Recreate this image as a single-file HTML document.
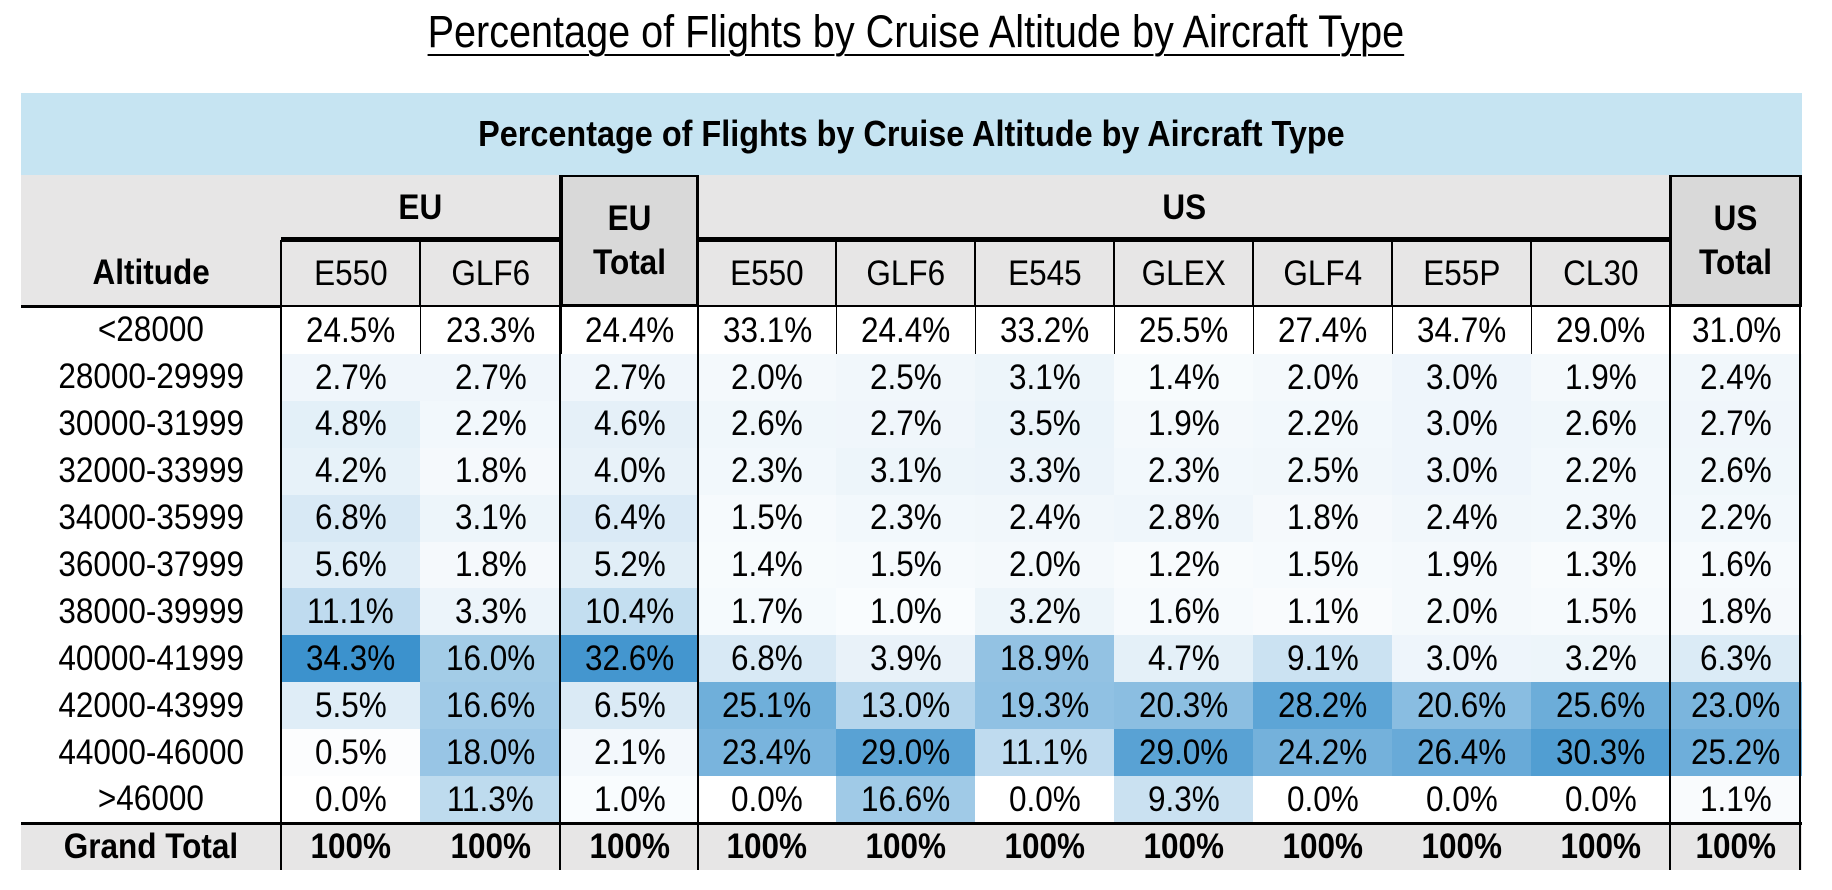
<!DOCTYPE html>
<html><head><meta charset="utf-8">
<style>
html,body{margin:0;padding:0;background:#fff;}
body{width:1832px;height:890px;position:relative;overflow:hidden;font-family:"Liberation Sans",sans-serif;}
.c{position:absolute;box-sizing:border-box;display:flex;align-items:center;justify-content:center;color:#000;}
.c span{display:inline-block;transform:scaleX(0.9);white-space:nowrap;}
#title{position:absolute;left:0;width:1832px;top:6px;text-align:center;font-size:45px;}
#title span{display:inline-block;transform:scaleX(0.88);text-decoration:underline;text-underline-offset:7px;text-decoration-thickness:2px;}
</style></head>
<body>
<div id="title"><span>Percentage of Flights by Cruise Altitude by Aircraft Type</span></div>
<div id="tbl"></div>
<script>
const altitudes=["<28000","28000-29999","30000-31999","32000-33999","34000-35999","36000-37999","38000-39999","40000-41999","42000-43999","44000-46000",">46000"];
const columns=["E550","GLF6","EU Total","E550","GLF6","E545","GLEX","GLF4","E55P","CL30","US Total"];
const euE550=[24.5,2.7,4.8,4.2,6.8,5.6,11.1,34.3,5.5,0.5,0.0];
const euGLF6=[23.3,2.7,2.2,1.8,3.1,1.8,3.3,16.0,16.6,18.0,11.3];
const euTotal=[24.4,2.7,4.6,4.0,6.4,5.2,10.4,32.6,6.5,2.1,1.0];
const usE550=[33.1,2.0,2.6,2.3,1.5,1.4,1.7,6.8,25.1,23.4,0.0];
const usGLF6=[24.4,2.5,2.7,3.1,2.3,1.5,1.0,3.9,13.0,29.0,16.6];
const usE545=[33.2,3.1,3.5,3.3,2.4,2.0,3.2,18.9,19.3,11.1,0.0];
const usGLEX=[25.5,1.4,1.9,2.3,2.8,1.2,1.6,4.7,20.3,29.0,9.3];
const usGLF4=[27.4,2.0,2.2,2.5,1.8,1.5,1.1,9.1,28.2,24.2,0.0];
const usE55P=[34.7,3.0,3.0,3.0,2.4,1.9,2.0,3.0,20.6,26.4,0.0];
const usCL30=[29.0,1.9,2.6,2.2,2.3,1.3,1.5,3.2,25.6,30.3,0.0];
const usTotal=[31.0,2.4,2.7,2.6,2.2,1.6,1.8,6.3,23.0,25.2,1.1];
const series=[euE550,euGLF6,euTotal,usE550,usGLF6,usE545,usGLEX,usGLF4,usE55P,usCL30,usTotal];

const T=document.getElementById('tbl');
const colX=[21,281,420,561,698,836,975,1114,1253,1392,1531,1670,1802];
const rowTop=307, rowH=46.9;
function add(x,y,w,h,txt,css,name,inter){
  const d=document.createElement('div');
  d.className='c';
  d.style.cssText=`left:${x}px;top:${y}px;width:${w}px;height:${h}px;`+(css||'');
  d.innerHTML=txt?'<span>'+txt+'</span>':'';
  
  
  T.appendChild(d);return d;
}
function color(v){
  const t=Math.min(v/34,1);
  const r=Math.round(255+(60-255)*t), g=Math.round(255+(146-255)*t), b=Math.round(255+(205-255)*t);
  return `rgb(${r},${g},${b})`;
}
const FS='font-size:35px;';
const W=colX[12]-colX[0];
add(21,93,W,82,'Percentage of Flights by Cruise Altitude by Aircraft Type','background:#c6e4f2;font-weight:bold;font-size:36px;','table-header-band');
add(21,175,W,131,'','background:#e7e6e6;','header-background');
add(21,240,260,66,'Altitude','font-weight:bold;'+FS,'altitude-header');
add(281,175,279,65,'EU','font-weight:bold;'+FS,'eu-group-header');
add(698,175,972,65,'US','font-weight:bold;'+FS,'us-group-header');
add(281,237,279,5,'','background:#000;','eu-group-line');
add(698,237,972,5,'','background:#000;','us-group-line');
const names=['eu-e550','eu-glf6','eu-total','us-e550','us-glf6','us-e545','us-glex','us-glf4','us-e55p','us-cl30','us-total'];
columns.forEach((c,i)=>{
  const x=colX[i+1], w=colX[i+2]-colX[i+1];
  const isTot=c.indexOf('Total')>=0;
  if(isTot){
    add(x,175,w,131,c.replace(' ','<br>'),'background:#d9d9d9;border:2px solid #000;font-weight:bold;'+FS+'line-height:1.25;text-align:center;',names[i]+'-header');
  } else {
    add(x,241,w,65,c,'border:1px solid #000;'+FS,names[i]+'-header');
  }
});
add(21,305,W,3,'','background:#000;','header-bottom-line');
altitudes.forEach((a,r)=>{
  const y=rowTop+r*rowH;
  add(21,y,260,rowH,a,FS,'row-label-'+r);
  series.forEach((s,i)=>{
    const x=colX[i+1], w=colX[i+2]-colX[i+1];
    const bg=r===0?'#fff':color(s[r]);
    const bd=r===0?'border-left:1px solid #000;':'';
    add(x,y,w,rowH+0.5,s[r].toFixed(1)+'%',`background:${bg};${FS}${bd}`,'cell-'+names[i]+'-'+r);
  });
});
const gy=rowTop+11*rowH;
add(21,gy,W,870-gy,'','background:#e7e6e6;','grand-total-band');
add(21,gy-1,W,3,'','background:#000;','grand-total-line');
add(21,gy+2,260,870-gy-2,'Grand Total','font-weight:bold;'+FS,'grand-total-label');
columns.forEach((c,i)=>{
  const x=colX[i+1], w=colX[i+2]-colX[i+1];
  add(x,gy+2,w,870-gy-2,'100%','font-weight:bold;'+FS,'grand-total-'+names[i]);
});
[281,560,698,1670,1800].forEach((x,k)=>{
  const top=x===281?240:175;
  add(x-1,top,2,870-top,'','background:#000;','column-divider-'+k);
});
</script>
</body></html>
